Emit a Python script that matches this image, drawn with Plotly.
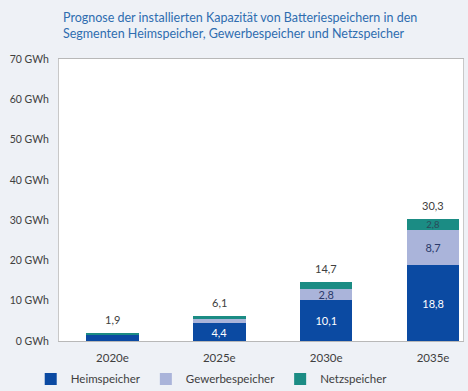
import plotly.graph_objects as go

categories = ["2020e", "2025e", "2030e", "2035e"]
heim = [1.6, 4.4, 10.1, 18.8]
gewerbe = [0.1, 1.0, 2.8, 8.7]
netz = [0.2, 0.7, 1.8, 2.8]
totals = [1.9, 6.1, 14.7, 30.3]
heim_labels = ["", "4,4", "10,1", "18,8"]
gewerbe_labels = ["", "", "2,8", "8,7"]
netz_labels = ["", "", "", "2,8"]
total_labels = ["1,9", "6,1", "14,7", "30,3"]
y_ticks = [0, 10, 20, 30, 40, 50, 60, 70]
y_tick_text = [f"{v} GWh" for v in y_ticks]

FONT = "Lato, Open Sans, sans-serif"

fig = go.Figure()
common = dict(width=0.49, textposition="inside", insidetextanchor="middle",
              textangle=0, constraintext="none", cliponaxis=False)
fig.add_trace(go.Bar(name="Heimspeicher", x=categories, y=heim, text=heim_labels,
                     marker=dict(color="#0b4aa2", line=dict(width=0)),
                     textfont=dict(color="white", size=11, family=FONT), **common))
fig.add_trace(go.Bar(name="Gewerbespeicher", x=categories, y=gewerbe, text=gewerbe_labels,
                     marker=dict(color="#aab4da", line=dict(width=0)),
                     textfont=dict(color="#2a3a6a", size=11, family=FONT), **common))
fig.add_trace(go.Bar(name="Netzspeicher", x=categories, y=netz, text=netz_labels,
                     marker=dict(color="#1b8c84", line=dict(width=0)),
                     textfont=dict(color="#2a4a5a", size=9.5, family=FONT), **common))

annotations = []
for c, t, lab in zip(categories, totals, total_labels):
    annotations.append(dict(x=c, y=t, text=lab, showarrow=False, xref="x", yref="y",
                            yanchor="bottom", yshift=5,
                            font=dict(color="#404040", size=11, family=FONT)))
annotations.append(dict(
    text="Prognose der installierten Kapazität von Batteriespeichern in den<br>Segmenten Heimspeicher, Gewerbespeicher und Netzspeicher",
    x=0.005, xref="paper", xanchor="left", y=(341 - 8) / 282, yref="paper", yanchor="top",
    align="left", showarrow=False,
    font=dict(family=FONT, size=12.5, color="#2f6db0")))

fig.update_layout(
    width=468, height=391,
    barmode="stack",
    paper_bgcolor="#eef1f6",
    plot_bgcolor="white",
    margin=dict(l=59, r=5, t=59, b=50, autoexpand=False),
    font=dict(family=FONT, color="#404040", size=11),
    annotations=annotations,
    xaxis=dict(range=[-0.5, 3.28], showgrid=False, showline=True, linecolor="#b8b8b8",
               linewidth=1, mirror=True, ticks="", ticklabelstandoff=6,
               tickfont=dict(size=11.5, color="#404040"), automargin=False),
    yaxis=dict(range=[0, 70], tickvals=y_ticks, ticktext=y_tick_text, showgrid=False,
               showline=True, linecolor="#c8c8c8", linewidth=1, mirror=True, ticks="",
               ticklabelstandoff=7, zeroline=False, automargin=False,
               tickfont=dict(size=10.5, color="#404040")),
    legend=dict(orientation="h", x=-0.07, xanchor="left", y=-0.083, yanchor="top",
                font=dict(size=11.5, color="#404040"), bgcolor="rgba(0,0,0,0)",
                traceorder="normal", itemwidth=30),
    showlegend=True,
)

fig.write_html("out.html", config={"displayModeBar": False},
               post_script="document.body.style.margin='0';document.body.style.padding='0';document.body.style.overflow='hidden';")
